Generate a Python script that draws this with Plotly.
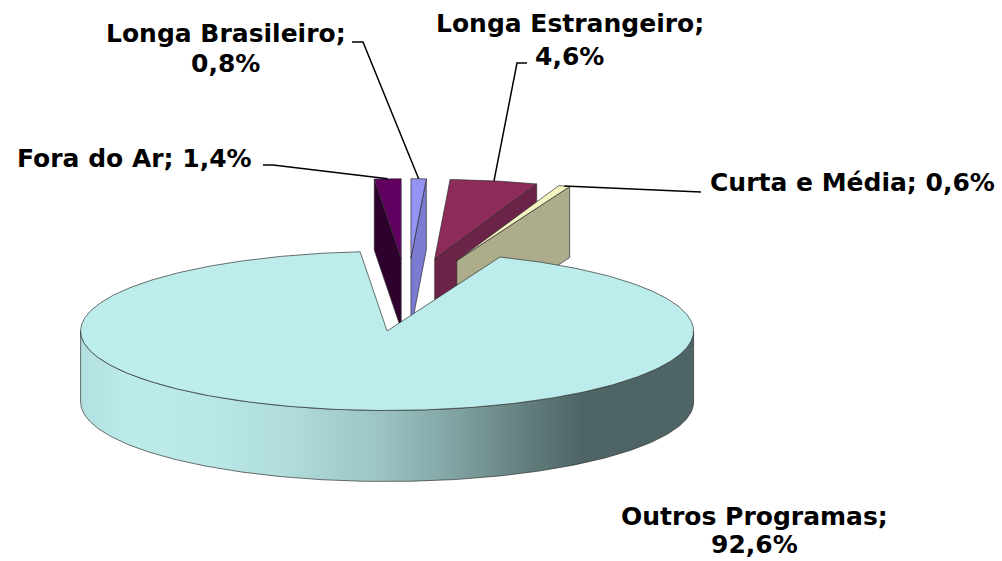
import math
import plotly.graph_objects as go

# ---------------- data ----------------
categories = ["Longa Brasileiro", "Longa Estrangeiro", "Curta e Média", "Outros Programas", "Fora do Ar"]
values = [0.8, 4.6, 0.6, 92.6, 1.4]   # percent share

# ---------------- styles / layout ----------------
W, H = 1002, 561
RX_PX = 306.5                 # pixels per unit radius
CX_PX, CY_PX = 407.4, 294.8   # pie centre (before explosion), pixels
K = 0.2594                    # ellipse flattening (tilt)
DEPTH = 71 / RX_PX            # thickness
EXPLODE = 141 / RX_PX         # explosion distance
START_DEG = 0.0               # first slice angle (clockwise from 12 o'clock)
EDGE = "rgba(45,45,45,0.85)"

top_color = {
    "Longa Brasileiro": "#9494F2",
    "Longa Estrangeiro": "#8D2C5B",
    "Curta e Média": "#F4F4C3",
    "Outros Programas": "#BDECEC",
    "Fora do Ar": "#620062",
}
side_color = {
    "Longa Brasileiro": "#7B7BD2",
    "Longa Estrangeiro": "#6B2347",
    "Curta e Média": "#ADAD8C",
    "Outros Programas": "#4F6565",
    "Fora do Ar": "#2E002E",
}
outer_side_scale = {
    "Outros Programas": [[0, "#B2E0E0"], [0.08, "#BDEBEB"], [0.2, "#BAE8E8"], [0.34, "#B0DCDC"],
                         [0.49, "#9BC3C3"], [0.62, "#7FA0A0"], [0.75, "#5D7777"],
                         [0.82, "#4F6464"], [1, "#4F6464"]],
}
# label placement (pixel centres of each text line) and leader elbow points (pixels)
label_pos = {
    "Longa Brasileiro": [(226, 33.5), (225, 64)],
    "Longa Estrangeiro": [(570, 24), (569.5, 56)],
    "Curta e Média": [(852, 183)],
    "Outros Programas": [(754, 516.5), (754, 544.5)],
    "Fora do Ar": [(134, 158.5)],
}
leader_pts = {
    "Longa Brasileiro": [(352, 42), (363, 42)],
    "Longa Estrangeiro": [(527, 63), (517, 63)],
    "Curta e Média": [(701, 192)],
    "Fora do Ar": [(263, 165), (273, 165)],
}
FONT = dict(family="DejaVu Sans", size=25, color="black", weight="bold")


def to_data(px, py):
    return (px - CX_PX) / RX_PX, (CY_PX - py) / RX_PX


def fmt_pct(v):
    return f"{v:.1f}".replace(".", ",") + "%"


def proj(off, r, deg, z):
    t = math.radians(deg)
    return off[0] + r * math.sin(t), off[1] + K * r * math.cos(t) + z


def arc(off, a0, a1, z, n):
    return [proj(off, 1.0, a0 + (a1 - a0) * i / n, z) for i in range(n + 1)]


def poly_trace(pts, name, color=None, gradient=None):
    xs = [p[0] for p in pts] + [pts[0][0]]
    ys = [p[1] for p in pts] + [pts[0][1]]
    kw = dict(x=xs, y=ys, mode="lines", fill="toself", name=name,
              line=dict(color=EDGE, width=0.8), hoverinfo="skip", showlegend=False)
    if gradient is not None:
        kw["fillgradient"] = dict(type="horizontal", colorscale=gradient)
    else:
        kw["fillcolor"] = color
    return go.Scatter(**kw)


total = sum(values)
slices = []
acc = START_DEG
for cat, v in zip(categories, values):
    span = v / total * 360.0
    a0, a1 = acc, acc + span
    acc = a1
    mid = (a0 + a1) / 2
    m = math.radians(mid)
    off = (EXPLODE * math.sin(m), K * EXPLODE * math.cos(m))
    slices.append(dict(cat=cat, v=v, a0=a0, a1=a1, mid=mid, off=off))

# painter's order: back slices first
order = sorted(slices, key=lambda s: -math.cos(math.radians(s["mid"])))

fig = go.Figure()
for s in order:
    cat, a0, a1, off = s["cat"], s["a0"], s["a1"], s["off"]
    n = max(8, int((a1 - a0) * 1.5))
    apex_t = (off[0], off[1])
    apex_b = (off[0], off[1] - DEPTH)
    # curved outer side (front half only)
    lo, hi = max(a0, 90.0), min(a1, 270.0)
    if hi > lo:
        nn = max(8, int((hi - lo) * 1.5))
        pts = arc(off, lo, hi, 0, nn) + arc(off, hi, lo, -DEPTH, nn)
        if cat in outer_side_scale:
            fig.add_trace(poly_trace(pts, cat, gradient=outer_side_scale[cat]))
        else:
            fig.add_trace(poly_trace(pts, cat, color=side_color[cat]))
    # radial faces
    if math.sin(math.radians(a0)) < -1e-6:
        r_t = proj(off, 1, a0, 0)
        r_b = proj(off, 1, a0, -DEPTH)
        fig.add_trace(poly_trace([apex_t, r_t, r_b, apex_b], cat, color=side_color[cat]))
    if math.sin(math.radians(a1)) > 1e-6:
        r_t = proj(off, 1, a1, 0)
        r_b = proj(off, 1, a1, -DEPTH)
        fig.add_trace(poly_trace([apex_t, r_t, r_b, apex_b], cat, color=side_color[cat]))
    # top face
    pts = [apex_t] + arc(off, a0, a1, 0, n)
    fig.add_trace(poly_trace(pts, cat, color=top_color[cat]))

# leader lines
for s in slices:
    cat = s["cat"]
    if cat not in leader_pts:
        continue
    rim = proj(s["off"], 1.0, s["mid"], 0)
    pts = [to_data(*p) for p in leader_pts[cat]] + [rim]
    fig.add_trace(go.Scatter(x=[p[0] for p in pts], y=[p[1] for p in pts], mode="lines",
                             line=dict(color="black", width=1.5), hoverinfo="skip",
                             showlegend=False))

# labels
for s in slices:
    cat = s["cat"]
    pos = label_pos[cat]
    if len(pos) == 1:
        lines = [f"{cat}; {fmt_pct(s['v'])}"]
    else:
        lines = [f"{cat};", fmt_pct(s["v"])]
    for txt, (px, py) in zip(lines, pos):
        fig.add_annotation(x=px / W, y=1 - py / H, xref="paper", yref="paper",
                           text=txt, showarrow=False, xanchor="center", yanchor="middle",
                           font=FONT)

x0, _ = to_data(0, 0)
x1, _ = to_data(W, 0)
_, ytop = to_data(0, 0)
_, ybot = to_data(0, H)
fig.update_layout(
    width=W, height=H, margin=dict(l=0, r=0, t=0, b=0),
    paper_bgcolor="white", plot_bgcolor="white", showlegend=False,
    xaxis=dict(range=[x0, x1], visible=False, fixedrange=True),
    yaxis=dict(range=[ybot, ytop], visible=False, fixedrange=True),
)
fig.write_html("out.html", config={"displayModeBar": False},
               post_script="document.body.style.margin='0';")
